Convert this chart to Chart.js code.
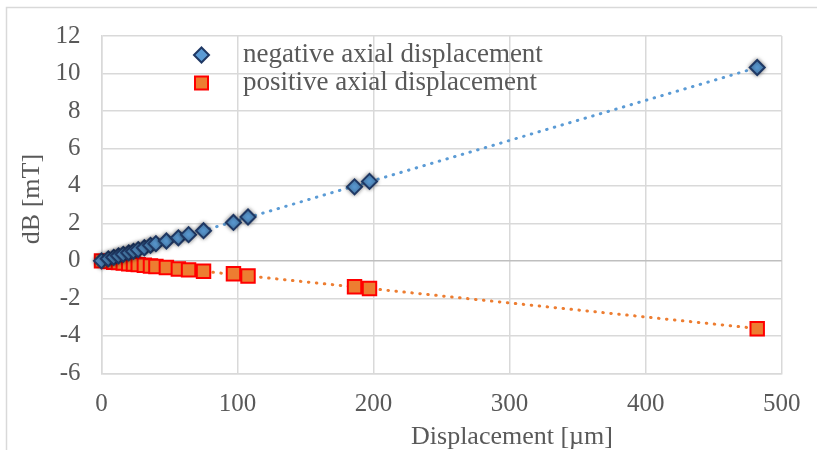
<!DOCTYPE html>
<html>
<head>
<meta charset="utf-8">
<script src="https://cdn.jsdelivr.net/npm/chart.js@4.4.1/dist/chart.umd.min.js"></script>
<style>
    html, body { margin: 0; padding: 0; background: #fff; }
    #wrap { width: 817px; height: 450px; position: relative; }
</style>
</head>
<body>
<div id="wrap"><canvas id="dbChart"></canvas></div>
<script>
// Displacement [µm] (same steps for both directions)
const displacement = [0, 5, 9, 12.5, 16, 20, 23.5, 27, 31.5, 36, 40, 47.7, 56.5, 64, 75, 97, 107.7, 186, 197, 482];
// dB [mT]
const negativeDB = [0, 0.11, 0.19, 0.27, 0.35, 0.43, 0.51, 0.60, 0.70, 0.83, 0.92, 1.06, 1.23, 1.40, 1.61, 2.05, 2.34, 3.95, 4.24, 10.32];
const positiveDB = [0, -0.04, -0.07, -0.09, -0.12, -0.15, -0.17, -0.20, -0.23, -0.27, -0.30, -0.35, -0.43, -0.48, -0.55, -0.69, -0.81, -1.38, -1.47, -3.62];

const seriesLabels = ['negative axial displacement', 'positive axial displacement'];
const xTicks = [0, 100, 200, 300, 400, 500];
const yTicks = [-6, -4, -2, 0, 2, 4, 6, 8, 10, 12];

const FONT = '"Liberation Serif", "Times New Roman", serif';
const TEXT = '#595959';
const GRID = '#D9D9D9';

function toPoints(xs, ys) {
    return xs.map((x, i) => ({ x: x, y: ys[i] }));
}

// least squares trendline over the data range
function trendline(xs, ys) {
    const n = xs.length;
    const mx = xs.reduce((a, b) => a + b, 0) / n;
    const my = ys.reduce((a, b) => a + b, 0) / n;
    let sxy = 0, sxx = 0;
    for (let i = 0; i < n; i++) {
        sxy += (xs[i] - mx) * (ys[i] - my);
        sxx += (xs[i] - mx) * (xs[i] - mx);
    }
    const k = sxy / sxx;
    const b = my - k * mx;
    const x0 = Math.min(...xs), x1 = Math.max(...xs);
    return [{ x: x0, y: k * x0 + b }, { x: x1, y: k * x1 + b }];
}

// frame, axis titles, legend
const decorPlugin = {
    id: 'decor',
    beforeDraw(chart) {
        const ctx = chart.ctx;
        ctx.save();
        ctx.strokeStyle = GRID;
        ctx.lineWidth = 1.5;
        ctx.strokeRect(6.5, 7.5, 2000, 2000);
        ctx.restore();
    },
    beforeDatasetDraw(chart, args) {
        if (args.index === 0) {
            chart.ctx.save();
            chart.ctx.shadowColor = 'rgba(0,0,0,0.45)';
            chart.ctx.shadowBlur = 4;
        }
    },
    afterDatasetDraw(chart, args) {
        if (args.index === 0) chart.ctx.restore();
    },
    afterDraw(chart) {
        const ctx = chart.ctx;
        ctx.save();
        ctx.fillStyle = TEXT;
        ctx.font = '26px ' + FONT;
        ctx.textAlign = 'center';
        ctx.textBaseline = 'middle';
        ctx.fillText('Displacement [µm]', 512, 437);

        ctx.save();
        ctx.translate(32, 199);
        ctx.rotate(-Math.PI / 2);
        ctx.fillText('dB [mT]', 0, 0);
        ctx.restore();

        // legend
        ctx.font = '27px ' + FONT;
        ctx.textAlign = 'left';
        const rows = [55, 83];
        // diamond
        ctx.beginPath();
        ctx.moveTo(201.5, rows[0] - 7.5);
        ctx.lineTo(209, rows[0]);
        ctx.lineTo(201.5, rows[0] + 7.5);
        ctx.lineTo(194, rows[0]);
        ctx.closePath();
        ctx.fillStyle = '#5B9BD5';
        ctx.fill();
        ctx.lineWidth = 2;
        ctx.strokeStyle = '#1F3864';
        ctx.stroke();
        // square
        ctx.fillStyle = '#ED7D31';
        ctx.fillRect(195, rows[1] - 6.5, 13, 13);
        ctx.strokeStyle = '#FF0000';
        ctx.strokeRect(195, rows[1] - 6.5, 13, 13);

        ctx.fillStyle = TEXT;
        ctx.fillText(seriesLabels[0], 243, rows[0]);
        ctx.fillText(seriesLabels[1], 243, rows[1]);
        ctx.restore();
    }
};

document.addEventListener('DOMContentLoaded', function () {
    const ctx = document.getElementById('dbChart');

    new Chart(ctx, {
        type: 'scatter',
        data: {
            datasets: [
                {
                    label: seriesLabels[0],
                    data: toPoints(displacement, negativeDB),
                    pointStyle: 'rectRot',
                    pointRadius: 7.5,
                    pointBackgroundColor: '#5B9BD5',
                    pointBorderColor: '#1F3864',
                    pointBorderWidth: 2,
                    clip: false
                },
                {
                    label: seriesLabels[1],
                    data: toPoints(displacement, positiveDB),
                    pointStyle: 'rect',
                    pointRadius: 9.5,
                    pointBackgroundColor: '#ED7D31',
                    pointBorderColor: '#FF0000',
                    pointBorderWidth: 2,
                    clip: false
                },
                {
                    type: 'line',
                    data: trendline(displacement, negativeDB),
                    borderColor: '#5B9BD5',
                    borderWidth: 3,
                    borderDash: [0.5, 7.5],
                    borderCapStyle: 'round',
                    pointRadius: 0,
                    fill: false
                },
                {
                    type: 'line',
                    data: trendline(displacement, positiveDB),
                    borderColor: '#ED7D31',
                    borderWidth: 3,
                    borderDash: [0.5, 7.5],
                    borderCapStyle: 'round',
                    pointRadius: 0,
                    fill: false
                }
            ]
        },
        options: {
            responsive: true,
            maintainAspectRatio: false,
            animation: false,
            layout: {
                padding: { left: 0, top: 25.5, right: 35.3, bottom: 0 }
            },
            plugins: {
                legend: { display: false },
                tooltip: { enabled: false }
            },
            scales: {
                x: {
                    type: 'linear',
                    min: 0,
                    max: 500,
                    afterBuildTicks: (scale) => { scale.ticks = xTicks.map(v => ({ value: v })); },
                    afterFit: (scale) => { scale.height = 450 - 373.3; },
                    grid: { color: GRID, lineWidth: 1.5, drawTicks: false },
                    border: { color: GRID, width: 1.5 },
                    ticks: {
                        padding: 16,
                        color: TEXT,
                        font: { family: FONT, size: 25 }
                    }
                },
                y: {
                    type: 'linear',
                    min: -6,
                    max: 12,
                    afterBuildTicks: (scale) => { scale.ticks = yTicks.map(v => ({ value: v })); },
                    afterFit: (scale) => { scale.width = 101.5; },
                    grid: {
                        color: (c) => (c.tick && c.tick.value === 0 ? '#BFBFBF' : GRID),
                        lineWidth: 1.5,
                        drawTicks: false
                    },
                    border: { color: GRID, width: 1.5 },
                    ticks: {
                        padding: 21,
                        color: TEXT,
                        font: { family: FONT, size: 25 }
                    }
                }
            }
        },
        plugins: [decorPlugin]
    });
});
</script>
</body>
</html>
